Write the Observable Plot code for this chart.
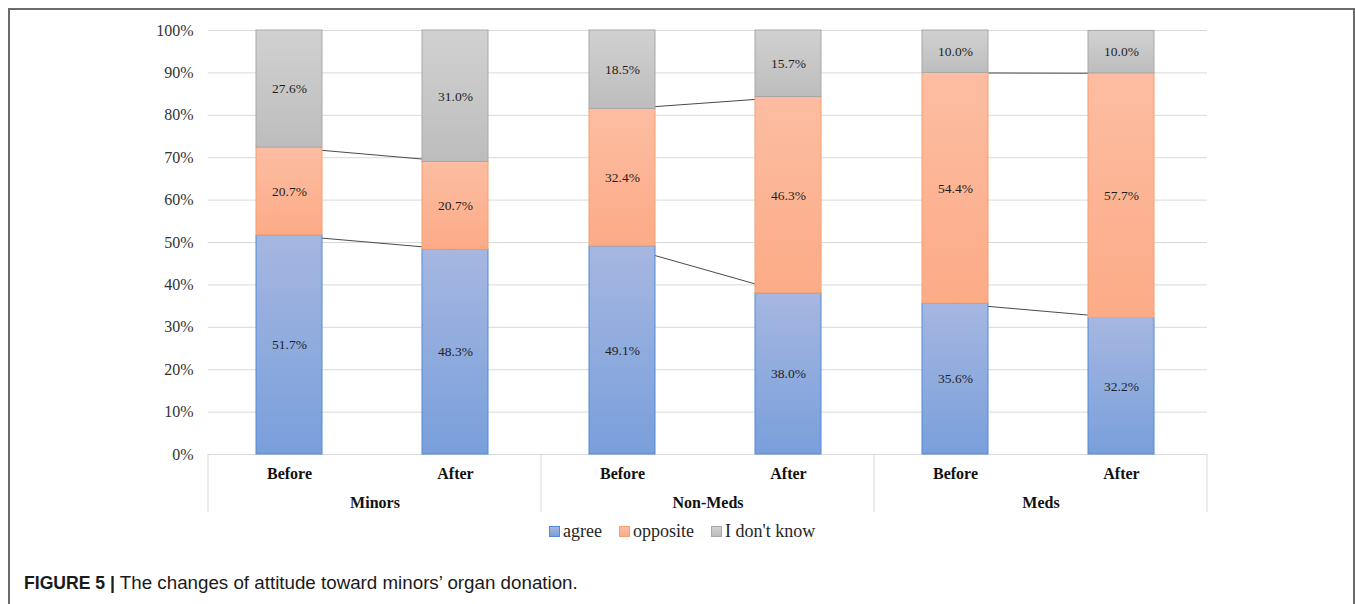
<!DOCTYPE html>
<html>
<head>
<meta charset="utf-8">
<script src="https://cdn.jsdelivr.net/npm/d3@7"></script>
<script src="https://cdn.jsdelivr.net/npm/@observablehq/plot@0.6"></script>
<style>
  html, body { margin: 0; padding: 0; background: #fff; }
  #page { position: relative; width: 1355px; height: 604px; overflow: hidden; }
  #border { position: absolute; left: 8px; top: 8px; width: 1347px; height: 700px;
            border: 2px solid #6b6b6b; border-bottom: none; box-sizing: border-box; }
  #chart { position: absolute; left: 0; top: 0; }
  #legend { position: absolute; top: 520px; left: 549px; display: flex; align-items: center;
            font-family: "Liberation Serif", "Times New Roman", serif; font-size: 18px;
            line-height: 22px; color: #262626; }
  #legend .item { display: flex; align-items: center; margin-right: 17px; }
  #legend .swatch { width: 9px; height: 9px; margin-right: 3px; box-sizing: content-box; }
  #caption { position: absolute; top: 572px; left: 24px; font-family: "Liberation Sans", Arial, sans-serif;
             font-size: 18.75px; line-height: 22px; color: #1a1a1a; white-space: nowrap; }
  #caption b { font-weight: bold; font-size: 17.6px; }
</style>
</head>
<body>
<svg width="0" height="0" style="position:absolute">
  <defs>
    <linearGradient id="fill-agree" x1="0" y1="0" x2="0" y2="1">
      <stop offset="0" stop-color="#a6b7e1"/>
      <stop offset="1" stop-color="#799fdb"/>
    </linearGradient>
    <linearGradient id="fill-opposite" x1="0" y1="0" x2="0" y2="1">
      <stop offset="0" stop-color="#fdbda2"/>
      <stop offset="1" stop-color="#fcab87"/>
    </linearGradient>
    <linearGradient id="fill-unknown" x1="0" y1="0" x2="0" y2="1">
      <stop offset="0" stop-color="#d1d1d1"/>
      <stop offset="1" stop-color="#bdbdbd"/>
    </linearGradient>
  </defs>
</svg>
<div id="page">
  <div id="border"></div>
  <div id="chart"></div>
  <div id="legend"></div>
  <div id="caption"><b>FIGURE 5 |</b> The changes of attitude toward minors’ organ donation.</div>
</div>
<script>
// Attitude shares (%) per respondent group, before and after
const groups   = ["Minors", "Minors", "Non-Meds", "Non-Meds", "Meds", "Meds"];
const phases   = ["Before", "After", "Before", "After", "Before", "After"];
const agree    = [51.7, 48.3, 49.1, 38.0, 35.6, 32.2];
const opposite = [20.7, 20.7, 32.4, 46.3, 54.4, 57.7];
const dontKnow = [27.6, 31.0, 18.5, 15.7, 10.0, 10.0];
const seriesNames = ["agree", "opposite", "I don't know"];
const groupNames = ["Minors", "Non-Meds", "Meds"];
const phaseNames = ["Before", "After"];

const seriesStyle = {
  "agree":        {fill: "url(#fill-agree)",    stroke: "#4f8ad9", swatch: "linear-gradient(#a6b7e1, #799fdb)"},
  "opposite":     {fill: "url(#fill-opposite)", stroke: "#f5a06f", swatch: "linear-gradient(#fdbda2, #fcab87)"},
  "I don't know": {fill: "url(#fill-unknown)",  stroke: "#a8a8a8", swatch: "linear-gradient(#d1d1d1, #bdbdbd)"}
};

// Stack the three answers within each bar
const seriesValues = [agree, opposite, dontKnow];
const segments = [];
groups.forEach((g, i) => {
  let base = 0;
  seriesValues.forEach((vals, s) => {
    segments.push({group: g, phase: phases[i], series: seriesNames[s], value: vals[i], y1: base, y2: base + vals[i]});
    base += vals[i];
  });
});

// Lines joining the agree and opposite tops from Before to After
const connectors = [];
groupNames.forEach(g => {
  const before = segments.filter(d => d.group === g && d.phase === "Before");
  const after  = segments.filter(d => d.group === g && d.phase === "After");
  [0, 1].forEach(s => connectors.push({group: g, from: "Before", to: "After", y1: before[s].y2, y2: after[s].y2}));
});

const barMarks = seriesNames.map(name => Plot.barY(segments.filter(d => d.series === name), {
  fx: "group", x: "phase", y1: "y1", y2: "y2",
  fill: seriesStyle[name].fill, stroke: seriesStyle[name].stroke, strokeWidth: 1
}));

const plot = Plot.plot({
  width: 1355,
  height: 520,
  marginLeft: 207,
  marginRight: 147,
  marginTop: 30,
  marginBottom: 66,
  style: {fontFamily: "'Liberation Serif', 'Times New Roman', serif", fontSize: "16px", color: "#333333", background: "transparent", overflow: "visible"},
  fx: {domain: groupNames, padding: 0, axis: null, label: null},
  x: {domain: phaseNames, paddingInner: 0.6, paddingOuter: 0.3, align: 0.48, axis: null, label: null},
  y: {domain: [0, 100], ticks: 10, tickFormat: d => d + "%", tickSize: 0, tickPadding: 15, label: null},
  marks: [
    Plot.gridY({ticks: 10, stroke: "#d9d9d9", strokeOpacity: 1, strokeWidth: 1}),
    Plot.link(connectors, {fx: "group", x1: "from", x2: "to", y1: "y1", y2: "y2", stroke: "#4a4a4a", strokeWidth: 1}),
    ...barMarks,
    Plot.text(segments, {
      fx: "group", x: "phase", y: d => (d.y1 + d.y2) / 2,
      text: d => d.value.toFixed(1) + "%", fontSize: 13.5, fill: "#1f1f1f"
    }),
    Plot.text(segments.filter(d => d.series === "agree"), {
      fx: "group", x: "phase", text: "phase", frameAnchor: "bottom", lineAnchor: "middle", dy: 19,
      fontWeight: "bold", fontSize: 16, fill: "#111111"
    }),
    Plot.text(groupNames, {
      fx: d => d, text: d => d, frameAnchor: "bottom", lineAnchor: "middle", dy: 48,
      fontWeight: "bold", fontSize: 16, fill: "#111111"
    })
  ]
});

// Category box under the axis: vertical dividers between the groups
const fxScale = plot.scale("fx");
const yScale = plot.scale("y");
const yBase = yScale.apply(0);
const edges = groupNames.map(g => fxScale.apply(g));
edges.push(fxScale.apply(groupNames[groupNames.length - 1]) + fxScale.step);
d3.select(plot).append("g")
  .attr("stroke", "#d9d9d9")
  .selectAll("line")
  .data(edges)
  .join("line")
  .attr("x1", d => d).attr("x2", d => d)
  .attr("y1", yBase).attr("y2", yBase + 58);

document.getElementById("chart").appendChild(plot);

// Legend
const legend = d3.select("#legend");
seriesNames.forEach(name => {
  const item = legend.append("div").attr("class", "item");
  item.append("span").attr("class", "swatch")
    .style("background", seriesStyle[name].swatch)
    .style("border", "1px solid " + seriesStyle[name].stroke);
  item.append("span").text(name);
});
</script>
</body>
</html>
